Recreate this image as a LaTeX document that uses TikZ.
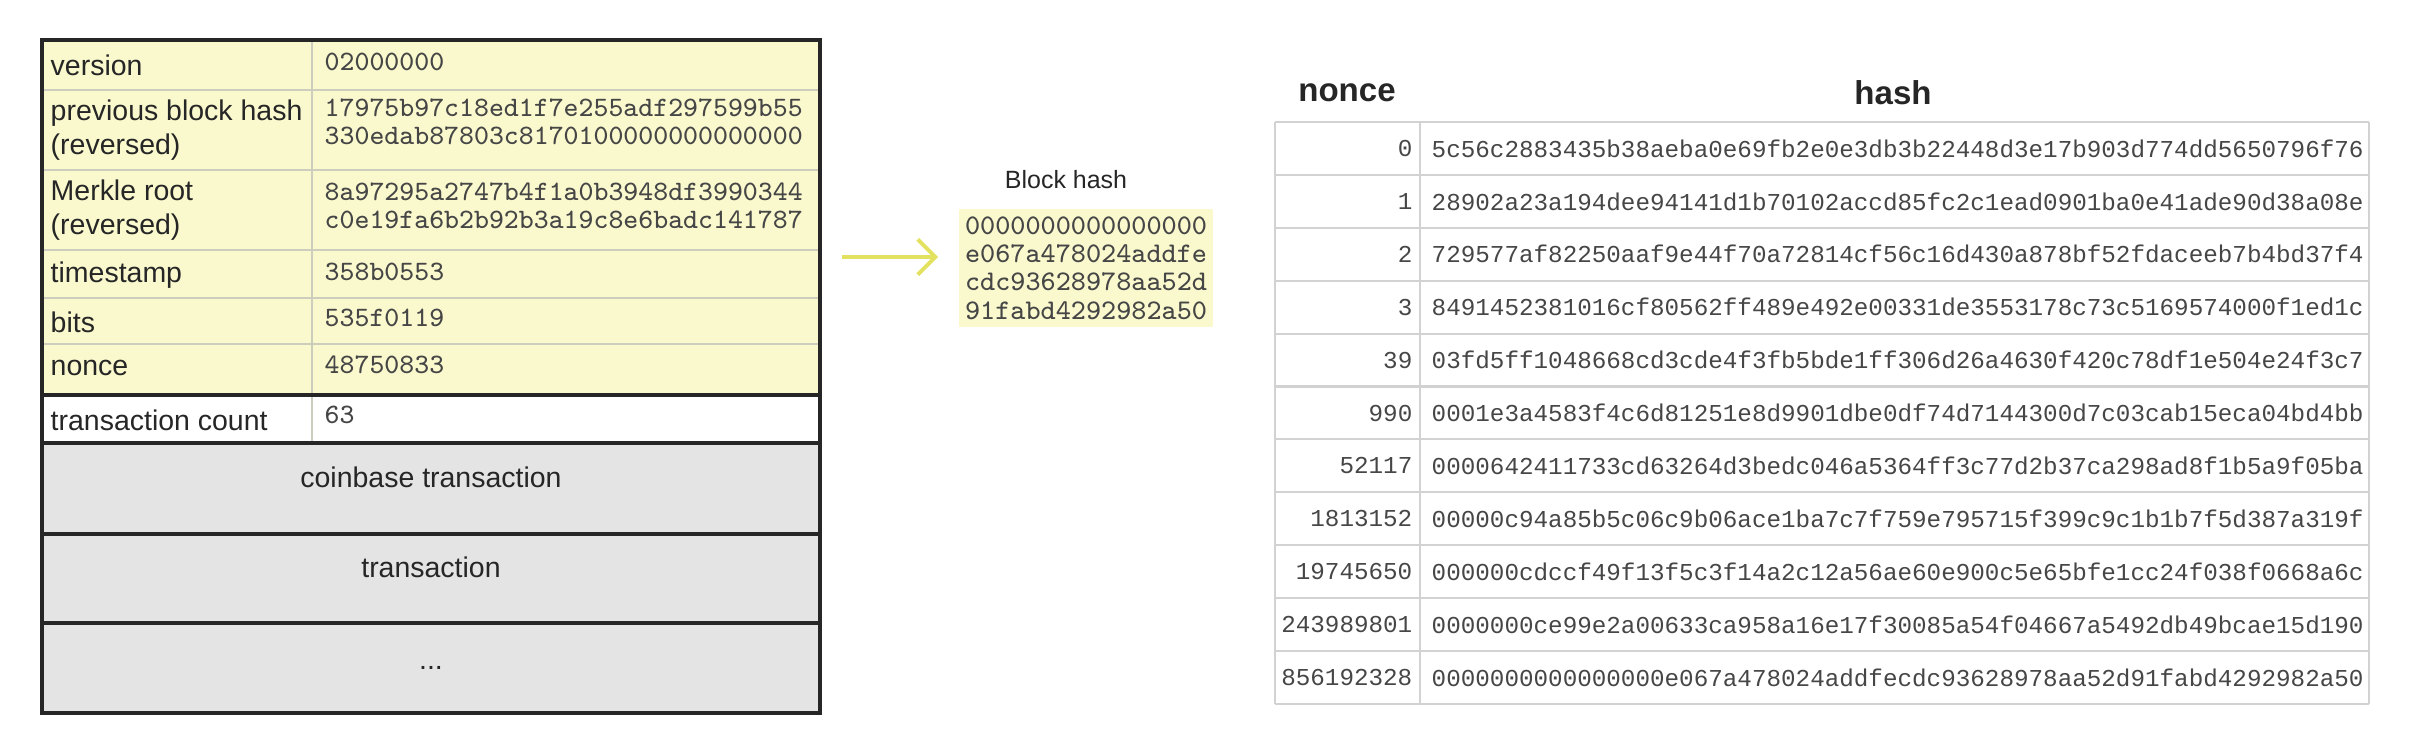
\documentclass[tikz,border=0pt]{standalone}
\usepackage{fontspec}
\setmainfont{Liberation Sans}
\newfontfamily\tablemono{Liberation Mono}
\usetikzlibrary{arrows.meta}

\definecolor{hdryellow}{RGB}{250,249,206}
\definecolor{txgrey}{RGB}{228,228,228}
\definecolor{seprule}{RGB}{205,205,190}
\definecolor{gridgrey}{RGB}{210,210,210}
\definecolor{valgrey}{RGB}{70,70,70}
\definecolor{arrowyellow}{RGB}{226,226,96}

\begin{document}
\begin{tikzpicture}[x=0.01cm,y=-0.01cm,
    field/.style={anchor=west,inner sep=0pt,align=left,text=black!85,font=\fontsize{8.1}{9.7}\selectfont},
    hexval/.style={anchor=west,inner sep=0pt,align=left,text=valgrey,font=\ttfamily\fontsize{8}{8}\selectfont},
    txlabel/.style={inner sep=0pt,text=black!85,font=\fontsize{8.1}{9.7}\selectfont},
    colhead/.style={inner sep=0pt,text=black!85,font=\bfseries\fontsize{9.4}{11}\selectfont},
    nonceval/.style={anchor=east,inner sep=0pt,text=valgrey,font=\tablemono\fontsize{6.9}{8}\selectfont},
    hashval/.style={anchor=west,inner sep=0pt,text=valgrey,font=\tablemono\fontsize{6.9}{8}\selectfont},
    thinrule/.style={draw=seprule,line width=0.5pt},
    thickrule/.style={draw=black!85,line width=1pt},
    gridline/.style={draw=gridgrey,line width=0.6pt}]
      \useasboundingbox (0,0) rectangle (2416,748);

      % block header and transactions
      \fill[hdryellow] (42,40) rectangle (820,395);
      \fill[white] (42,395) rectangle (820,443);
      \fill[txgrey] (42,443) rectangle (820,713);
      \draw[thinrule] (42,90) -- (820,90);
      \draw[thinrule] (42,170) -- (820,170);
      \draw[thinrule] (42,250) -- (820,250);
      \draw[thinrule] (42,298) -- (820,298);
      \draw[thinrule] (42,344) -- (820,344);
      \draw[thinrule] (312,40) -- (312,443);
      \draw[thickrule] (42,395) -- (820,395);
      \draw[thickrule] (42,443) -- (820,443);
      \draw[thickrule] (42,534) -- (820,534);
      \draw[thickrule] (42,623) -- (820,623);
      \draw[black!85,line width=1.3pt] (42,40) rectangle (820,713);

      \node[field] (lversion) at (50,65) {version};
      \node[field] (lprev) at (50,130) {previous block hash\\(reversed)};
      \node[field] (lmerkle) at (50,210) {Merkle root\\(reversed)};
      \node[field] (ltime) at (50,275) {timestamp};
      \node[field] (lbits) at (50,322) {bits};
      \node[field] (lnonce) at (50,368) {nonce};
      \node[field] (lcount) at (50,420) {transaction count};

      \node[hexval] (vversion) at (324,62) {02000000};
      \node[hexval] (vprev) at (324,122) {17975b97c18ed1f7e255adf297599b55\\330edab87803c8170100000000000000};
      \node[hexval] (vmerkle) at (324,206) {8a97295a2747b4f1a0b3948df3990344\\c0e19fa6b2b92b3a19c8e6badc141787};
      \node[hexval] (vtime) at (324,272) {358b0553};
      \node[hexval] (vbits) at (324,318) {535f0119};
      \node[hexval] (vnonce) at (324,365) {48750833};
      \node[hexval] (vcount) at (324,415) {63};

      \node[txlabel] (coinbase) at (431,477) {coinbase transaction};
      \node[txlabel] (tx) at (431,567) {transaction};
      \node[txlabel] (more) at (431,668) {...};

      % resulting hash
      \node[txlabel,font=\fontsize{7.1}{8}\selectfont] (bhlabel) at (1066,180) {Block hash};
      \node[fill=hdryellow,minimum width=2.53cm,minimum height=1.17cm,inner sep=0pt,align=left,
            text=valgrey,font=\ttfamily\fontsize{8.1}{8.05}\selectfont] (bhash) at (1086,268)
            {0000000000000000\\e067a478024addfe\\cdc93628978aa52d\\91fabd4292982a50};
      \coordinate (arrowtail) at (842,257);
      \coordinate (arrowtip) at (938,257);
      \draw[arrowyellow,line width=1.1pt,-{Straight Barb[length=5pt,width=10pt]}] (arrowtail) -- (arrowtip);

      % nonce / hash table
      \node[colhead] (hnonce) at (1347,93) {nonce};
      \node[colhead] (hhash) at (1893,93) {hash};
      \foreach \k in {0,...,11}
        \draw[gridline] (1275,{122+52.9*\k}) -- (2369,{122+52.9*\k});
      \draw[gridline] (1275,122) -- (1275,704);
      \draw[gridline] (1420,122) -- (1420,704);
      \draw[gridline] (2369,122) -- (2369,704);

      \node[nonceval] (n0) at (1413,148.5) {0};
      \node[hashval] (h0) at (1431,148.5) {5c56c2883435b38aeba0e69fb2e0e3db3b22448d3e17b903d774dd5650796f76};
      \node[nonceval] (n1) at (1413,201.4) {1};
      \node[hashval] (h1) at (1431,201.4) {28902a23a194dee94141d1b70102accd85fc2c1ead0901ba0e41ade90d38a08e};
      \node[nonceval] (n2) at (1413,254.3) {2};
      \node[hashval] (h2) at (1431,254.3) {729577af82250aaf9e44f70a72814cf56c16d430a878bf52fdaceeb7b4bd37f4};
      \node[nonceval] (n3) at (1413,307.2) {3};
      \node[hashval] (h3) at (1431,307.2) {8491452381016cf80562ff489e492e00331de3553178c73c5169574000f1ed1c};
      \node[nonceval] (n39) at (1413,360.1) {39};
      \node[hashval] (h39) at (1431,360.1) {03fd5ff1048668cd3cde4f3fb5bde1ff306d26a4630f420c78df1e504e24f3c7};
      \node[nonceval] (n990) at (1413,413) {990};
      \node[hashval] (h990) at (1431,413) {0001e3a4583f4c6d81251e8d9901dbe0df74d7144300d7c03cab15eca04bd4bb};
      \node[nonceval] (n52117) at (1413,465.9) {52117};
      \node[hashval] (h52117) at (1431,465.9) {0000642411733cd63264d3bedc046a5364ff3c77d2b37ca298ad8f1b5a9f05ba};
      \node[nonceval] (n1813152) at (1413,518.8) {1813152};
      \node[hashval] (h1813152) at (1431,518.8) {00000c94a85b5c06c9b06ace1ba7c7f759e795715f399c9c1b1b7f5d387a319f};
      \node[nonceval] (n19745650) at (1413,571.7) {19745650};
      \node[hashval] (h19745650) at (1431,571.7) {000000cdccf49f13f5c3f14a2c12a56ae60e900c5e65bfe1cc24f038f0668a6c};
      \node[nonceval] (n243989801) at (1413,624.6) {243989801};
      \node[hashval] (h243989801) at (1431,624.6) {0000000ce99e2a00633ca958a16e17f30085a54f04667a5492db49bcae15d190};
      \node[nonceval] (n856192328) at (1413,677.5) {856192328};
      \node[hashval] (h856192328) at (1431,677.5) {0000000000000000e067a478024addfecdc93628978aa52d91fabd4292982a50};
    \end{tikzpicture}
\end{document}
